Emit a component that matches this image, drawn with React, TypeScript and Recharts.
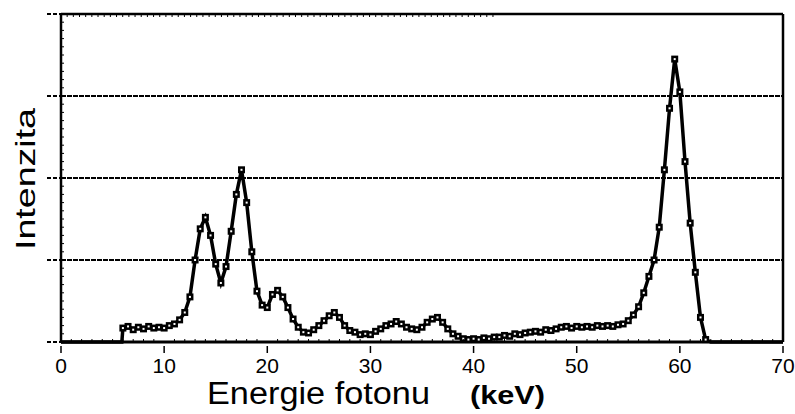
import React from "react";
import { LineChart, Line, XAxis, YAxis, ReferenceLine, Label } from "recharts";

const FONT = "'Liberation Sans', Arial, sans-serif";

// spectrum sampled every 0.5 keV between 6 and 63 keV
const sampleStart = 6;
const sampleStep = 0.5;
const intensity = [
  0.17, 0.19, 0.15, 0.18, 0.16, 0.19, 0.17, 0.18, 0.17, 0.2,
  0.22, 0.27, 0.36, 0.55, 1.0, 1.38, 1.52, 1.3, 0.95, 0.72,
  0.92, 1.35, 1.8, 2.1, 1.7, 1.1, 0.62, 0.45, 0.42, 0.58,
  0.63, 0.55, 0.42, 0.28, 0.18, 0.12, 0.11, 0.15, 0.2, 0.26,
  0.32, 0.36, 0.3, 0.2, 0.14, 0.12, 0.09, 0.1, 0.09, 0.13,
  0.16, 0.2, 0.22, 0.25, 0.22, 0.18, 0.16, 0.15, 0.18, 0.24,
  0.28, 0.3, 0.24, 0.16, 0.1, 0.07, 0.04, 0.03, 0.04, 0.03,
  0.05, 0.04, 0.06, 0.06, 0.08, 0.07, 0.1, 0.09, 0.11, 0.12,
  0.13, 0.12, 0.15, 0.14, 0.16, 0.18, 0.19, 0.17, 0.19, 0.18,
  0.19, 0.18, 0.2, 0.19, 0.2, 0.19, 0.21, 0.22, 0.26, 0.33,
  0.43, 0.6, 0.8, 1.0, 1.4, 2.1, 2.85, 3.45, 3.05, 2.2,
  1.45, 0.85, 0.3, 0.03, 0,
];

// flat baseline before the detector threshold and after the last peak
const leadIn = [
  { e: 0, v: 0 },
  { e: 5.9, v: 0 },
];
const tail = [{ e: 70, v: 0 }];

const xMajor = [0, 10, 20, 30, 40, 50, 60, 70];
const xMinor = Array.from({ length: 71 }, (_, i) => i);
const yGrid = [1, 2, 3];
const yMinor = Array.from({ length: 41 }, (_, i) => i / 10);

const data = [
  ...leadIn,
  ...intensity.map((v, i) => ({ e: sampleStart + i * sampleStep, v })),
  ...tail,
];

const SquareDot = (props: any) => {
  const { cx, cy, payload, index } = props;
  if (payload.e < 6 || payload.e > 62.5) return <g key={`d-${index}`} />;
  return (
    <g key={`d-${index}`}>
      <rect x={cx - 3.5} y={cy - 3.5} width={7} height={7} fill="#000" />
      <rect x={cx - 1} y={cy - 1} width={2} height={2} fill="#fff" />
    </g>
  );
};

const BottomTick = ({ x, y, payload }: any) => {
  const v = payload.value;
  if (xMajor.includes(v)) {
    return (
      <g>
        <line x1={x} x2={x} y1={y + 4} y2={y + 11} stroke="#000" strokeWidth={1.5} />
        <text x={x} y={y + 31} textAnchor="middle" fontSize={21} fontFamily={FONT} fill="#000">
          {v}
        </text>
      </g>
    );
  }
  return <line x1={x} x2={x} y1={y} y2={y - 3} stroke="#000" strokeWidth={1} />;
};

const TopTick = ({ x, y }: any) => (
  <line x1={x} x2={x} y1={y} y2={y + 3} stroke="#000" strokeWidth={1} />
);

const LeftTick = ({ x, y, payload }: any) => {
  if (Number.isInteger(payload.value)) {
    return <line x1={x - 14} x2={x} y1={y} y2={y} stroke="#000" strokeWidth={2} strokeDasharray="4 2" />;
  }
  return <line x1={x} x2={x + 3} y1={y} y2={y} stroke="#000" strokeWidth={1} />;
};

const RightTick = ({ x, y }: any) => (
  <line x1={x} x2={x - 3} y1={y} y2={y} stroke="#000" strokeWidth={1} />
);

export default function App() {
  return (
    <div style={{ position: "absolute", left: 0, top: 0, width: 795, height: 414, background: "#fff" }}>
      <LineChart width={795} height={414} data={data} margin={{ top: 0, right: 0, bottom: 0, left: 0 }}>
        <XAxis
          dataKey="e"
          type="number"
          domain={[0, 70]}
          ticks={xMinor}
          interval={0}
          height={72}
          tickSize={0}
          tickMargin={0}
          tickLine={false}
          tick={BottomTick}
          axisLine={{ stroke: "#000", strokeWidth: 3 }}
        >
          <Label
            content={() => (
              <text y={404} fontFamily={FONT} fill="#000">
                <tspan x={207} fontSize={31} textLength={223} lengthAdjust="spacingAndGlyphs">
                  Energie fotonu
                </tspan>
                <tspan x={470} fontSize={26} fontWeight="bold" textLength={75} lengthAdjust="spacingAndGlyphs">
                  (keV)
                </tspan>
              </text>
            )}
          />
        </XAxis>
        <XAxis
          xAxisId="top"
          orientation="top"
          type="number"
          domain={[0, 70]}
          ticks={xMinor}
          interval={0}
          height={14}
          tickSize={0}
          tickMargin={0}
          tickLine={false}
          tick={TopTick}
          axisLine={{ stroke: "#000", strokeWidth: 2.5 }}
        />
        <YAxis
          type="number"
          domain={[0, 4]}
          ticks={yMinor}
          interval={0}
          width={61}
          tickSize={0}
          tickMargin={0}
          tickLine={false}
          tick={LeftTick}
          axisLine={{ stroke: "#000", strokeWidth: 2.5 }}
        >
          <Label
            content={() => (
              <text
                x={35}
                y={179}
                transform="rotate(-90, 35, 179)"
                textAnchor="middle"
                fontSize={28}
                fontFamily={FONT}
                fill="#000"
                textLength={142}
                lengthAdjust="spacingAndGlyphs"
              >
                Intenzita
              </text>
            )}
          />
        </YAxis>
        <YAxis
          yAxisId="right"
          orientation="right"
          type="number"
          domain={[0, 4]}
          ticks={yMinor}
          interval={0}
          width={12}
          tickSize={0}
          tickMargin={0}
          tickLine={false}
          tick={RightTick}
          axisLine={{ stroke: "#000", strokeWidth: 2.5 }}
        />
        {yGrid.map((g) => (
          <ReferenceLine key={g} y={g} stroke="#000" strokeWidth={2} strokeDasharray="5 1" />
        ))}
        <Line
          type="linear"
          dataKey="v"
          stroke="#000"
          strokeWidth={3.5}
          dot={SquareDot}
          activeDot={false}
          isAnimationActive={false}
        />
      </LineChart>
    </div>
  );
}
